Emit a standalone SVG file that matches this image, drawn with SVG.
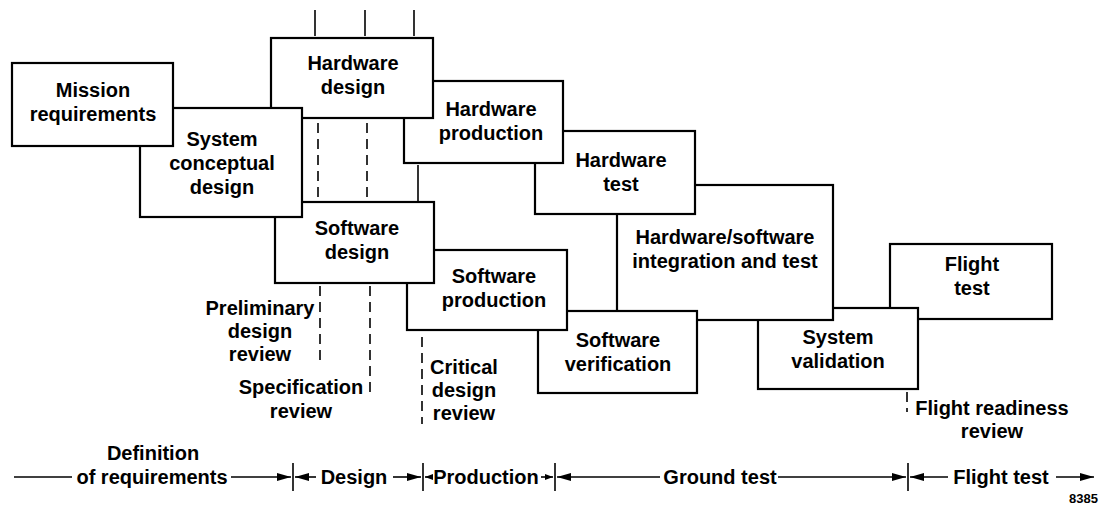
<svg xmlns="http://www.w3.org/2000/svg" width="1100" height="506" viewBox="0 0 1100 506">
<defs>
<style>
.box{fill:#fff;stroke:#000;stroke-width:2.2}
.t{font-family:"Liberation Sans",Arial,Helvetica,sans-serif;font-weight:bold;font-size:20px;fill:#000;text-anchor:middle}
.ln{stroke:#000;stroke-width:1.6;fill:none}
.dash{stroke:#000;stroke-width:1.6;fill:none;stroke-dasharray:10 6}
.tick{stroke:#000;stroke-width:1.6}
</style>
<marker id="ah" viewBox="0 0 14 8" refX="14" refY="4" markerWidth="14" markerHeight="8" markerUnits="userSpaceOnUse" orient="auto"><path d="M0,0 L14,4 L0,8 Z" fill="#000"/></marker>
<marker id="sm" viewBox="0 0 8 6" refX="8" refY="3" markerWidth="8" markerHeight="6" markerUnits="userSpaceOnUse" orient="auto"><path d="M0,0 L8,3 L0,6 Z" fill="#000"/></marker>
</defs>
<rect width="1100" height="506" fill="#fff"/>

<g id="flight-test">
<rect class="box" x="890" y="244" width="162" height="75"/>
<text class="t" x="972" y="271">Flight</text>
<text class="t" x="972" y="295">test</text>
</g>
<g id="system-validation">
<rect class="box" x="758" y="308" width="160" height="81"/>
<text class="t" x="838" y="344">System</text>
<text class="t" x="838" y="368">validation</text>
</g>
<g id="integration">
<rect class="box" x="617" y="185" width="216" height="135"/>
<text class="t" x="725" y="244">Hardware/software</text>
<text class="t" x="725" y="268">integration and test</text>
</g>
<g id="software-verification">
<rect class="box" x="538" y="311" width="159" height="82"/>
<text class="t" x="618" y="347">Software</text>
<text class="t" x="618" y="371">verification</text>
</g>
<g id="hardware-test">
<rect class="box" x="535" y="131" width="160" height="83"/>
<text class="t" x="621" y="167">Hardware</text>
<text class="t" x="621" y="191">test</text>
</g>
<g id="software-production">
<rect class="box" x="407" y="250" width="160" height="80"/>
<text class="t" x="494" y="283">Software</text>
<text class="t" x="494" y="307">production</text>
</g>
<g id="hardware-production">
<rect class="box" x="404" y="81" width="159" height="82"/>
<text class="t" x="491" y="116">Hardware</text>
<text class="t" x="491" y="140">production</text>
</g>
<g id="software-design">
<rect class="box" x="275" y="202" width="159" height="81"/>
<text class="t" x="357" y="235">Software</text>
<text class="t" x="357" y="259">design</text>
</g>
<g id="hardware-design">
<rect class="box" x="271" y="38" width="162" height="80"/>
<text class="t" x="353" y="70">Hardware</text>
<text class="t" x="353" y="94">design</text>
</g>
<g id="system-conceptual-design">
<rect class="box" x="140" y="108" width="162" height="109"/>
<text class="t" x="222" y="146">System</text>
<text class="t" x="222" y="170">conceptual</text>
<text class="t" x="222" y="194">design</text>
</g>
<g id="mission-requirements">
<rect class="box" x="12" y="63" width="161" height="83"/>
<text class="t" x="93" y="97">Mission</text>
<text class="t" x="93" y="121">requirements</text>
</g>

<g id="connectors">
<line class="ln" x1="315" y1="10" x2="315" y2="36"/>
<line class="ln" x1="365" y1="10" x2="365" y2="36"/>
<line class="ln" x1="414" y1="10" x2="414" y2="36"/>
<line class="dash" x1="318" y1="123" x2="318" y2="200"/>
<line class="dash" x1="367" y1="123" x2="367" y2="200"/>
<line class="ln" x1="418" y1="165" x2="418" y2="201"/>
<line class="dash" x1="320" y1="286" x2="320" y2="366"/>
<line class="dash" x1="370" y1="286" x2="370" y2="392"/>
<line class="dash" x1="422" y1="337" x2="422" y2="424"/>
<line class="dash" x1="907" y1="392" x2="907" y2="412" stroke-dasharray="6 4"/>
</g>

<g id="review-labels">
<text class="t" x="260" y="315">Preliminary</text>
<text class="t" x="260" y="338">design</text>
<text class="t" x="260" y="361">review</text>
<text class="t" x="301" y="394">Specification</text>
<text class="t" x="301" y="418">review</text>
<text class="t" x="464" y="374">Critical</text>
<text class="t" x="464" y="397">design</text>
<text class="t" x="464" y="420">review</text>
<text class="t" x="992" y="415">Flight readiness</text>
<text class="t" x="992" y="438">review</text>
</g>

<g id="timeline">
<text class="t" x="153" y="460">Definition</text>
<line class="ln" x1="14" y1="477" x2="72" y2="477"/>
<text class="t" x="152" y="484">of requirements</text>
<line class="ln" x1="231" y1="477" x2="291" y2="477" marker-end="url(#ah)"/>
<line class="tick" x1="293" y1="463" x2="293" y2="491"/>
<line class="ln" x1="316" y1="477" x2="295" y2="477" marker-end="url(#ah)"/>
<text class="t" x="354" y="484">Design</text>
<line class="ln" x1="393" y1="477" x2="421" y2="477" marker-end="url(#ah)"/>
<line class="tick" x1="423" y1="463" x2="423" y2="491"/>
<line class="ln" x1="432" y1="477" x2="425" y2="477" marker-end="url(#sm)"/>
<text class="t" x="486" y="484">Production</text>
<line class="ln" x1="541" y1="477" x2="553" y2="477" marker-end="url(#sm)"/>
<line class="tick" x1="555" y1="463" x2="555" y2="491"/>
<line class="ln" x1="660" y1="477" x2="557" y2="477" marker-end="url(#ah)"/>
<text class="t" x="720" y="484">Ground test</text>
<line class="ln" x1="778" y1="477" x2="906" y2="477" marker-end="url(#ah)"/>
<line class="tick" x1="908" y1="463" x2="908" y2="491"/>
<line class="ln" x1="948" y1="477" x2="910" y2="477" marker-end="url(#ah)"/>
<text class="t" x="1001" y="484">Flight test</text>
<line class="ln" x1="1056" y1="477" x2="1094" y2="477" marker-end="url(#ah)"/>
<text x="1098" y="503" style="font-family:'Liberation Sans',Arial,sans-serif;font-weight:bold;font-size:13px;text-anchor:end">8385</text>
</g>
</svg>
